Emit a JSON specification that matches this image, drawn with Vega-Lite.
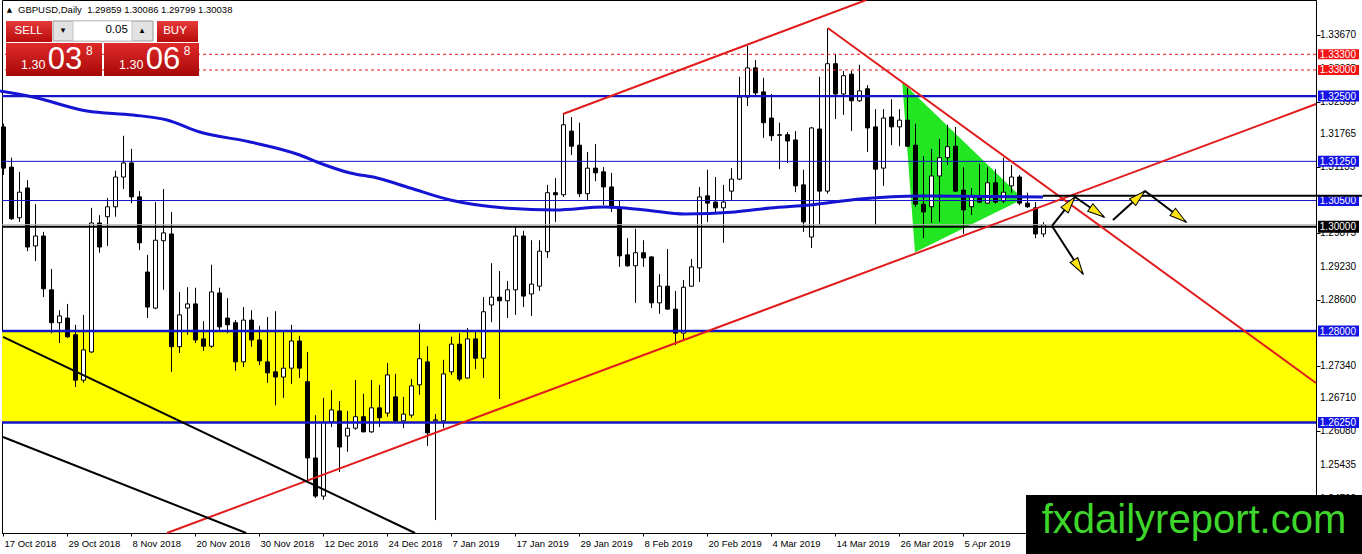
{
  "$schema": "https://vega.github.io/schema/vega-lite/v6.json",
  "width": 1314,
  "height": 533,
  "autosize": "none",
  "padding": {"left": 2, "top": 0, "right": 46, "bottom": 21},
  "background": "white",
  "config": {
    "view": {"stroke": "black", "strokeWidth": 1},
    "axis": {"grid": false, "domainColor": "black", "tickColor": "black", "labelColor": "black", "labelFont": "Liberation Sans", "labelFontSize": 10, "titleOpacity": 0, "labelOverlap": false},
    "scale": {"continuousPadding": 0},
    "text": {"font": "Liberation Sans"}
  },
  "datasets": {
    "candles": [
      {"i":0,"open":1.3191,"high":1.3197,"low":1.3099,"close":1.3112},
      {"i":1,"open":1.3114,"high":1.3132,"low":1.3013,"close":1.3015},
      {"i":2,"open":1.3017,"high":1.3105,"low":1.3009,"close":1.3066},
      {"i":3,"open":1.3074,"high":1.3089,"low":1.2953,"close":1.2961},
      {"i":4,"open":1.2963,"high":1.3043,"low":1.2934,"close":1.2982},
      {"i":5,"open":1.2982,"high":1.2990,"low":1.2865,"close":1.2881},
      {"i":6,"open":1.2879,"high":1.2919,"low":1.2796,"close":1.2816},
      {"i":7,"open":1.2816,"high":1.2840,"low":1.2777,"close":1.2829},
      {"i":8,"open":1.2825,"high":1.2852,"low":1.2787,"close":1.2789},
      {"i":9,"open":1.2793,"high":1.2812,"low":1.2693,"close":1.2706},
      {"i":10,"open":1.2706,"high":1.2831,"low":1.2701,"close":1.2764},
      {"i":11,"open":1.2760,"high":1.3036,"low":1.2758,"close":1.3007},
      {"i":12,"open":1.3007,"high":1.3022,"low":1.2950,"close":1.2961},
      {"i":13,"open":1.3019,"high":1.3055,"low":1.2963,"close":1.3038},
      {"i":14,"open":1.3038,"high":1.3107,"low":1.3019,"close":1.3095},
      {"i":15,"open":1.3095,"high":1.3174,"low":1.3072,"close":1.3122},
      {"i":16,"open":1.3122,"high":1.3149,"low":1.3045,"close":1.3057},
      {"i":17,"open":1.3057,"high":1.3068,"low":1.2955,"close":1.2969},
      {"i":18,"open":1.2913,"high":1.2946,"low":1.2825,"close":1.2846},
      {"i":19,"open":1.2844,"high":1.3047,"low":1.2842,"close":1.2974},
      {"i":20,"open":1.2973,"high":1.3072,"low":1.2879,"close":1.2988},
      {"i":21,"open":1.2986,"high":1.3028,"low":1.2722,"close":1.2770},
      {"i":22,"open":1.2770,"high":1.2875,"low":1.2758,"close":1.2831},
      {"i":23,"open":1.2844,"high":1.2884,"low":1.2793,"close":1.2852},
      {"i":24,"open":1.2852,"high":1.2883,"low":1.2777,"close":1.2783},
      {"i":25,"open":1.2785,"high":1.2819,"low":1.2762,"close":1.2771},
      {"i":26,"open":1.2771,"high":1.2927,"low":1.2768,"close":1.2875},
      {"i":27,"open":1.2873,"high":1.2883,"low":1.2798,"close":1.2808},
      {"i":28,"open":1.2825,"high":1.2863,"low":1.2796,"close":1.2812},
      {"i":29,"open":1.2816,"high":1.2821,"low":1.2724,"close":1.2741},
      {"i":30,"open":1.2741,"high":1.2846,"low":1.2731,"close":1.2821},
      {"i":31,"open":1.2821,"high":1.2840,"low":1.2770,"close":1.2783},
      {"i":32,"open":1.2783,"high":1.2810,"low":1.2735,"close":1.2743},
      {"i":33,"open":1.2741,"high":1.2827,"low":1.2701,"close":1.2720},
      {"i":34,"open":1.2722,"high":1.2838,"low":1.2658,"close":1.2712},
      {"i":35,"open":1.2712,"high":1.2798,"low":1.2672,"close":1.2729},
      {"i":36,"open":1.2729,"high":1.2812,"low":1.2699,"close":1.2781},
      {"i":37,"open":1.2781,"high":1.2791,"low":1.2710,"close":1.2729},
      {"i":38,"open":1.2703,"high":1.2760,"low":1.2509,"close":1.2557},
      {"i":39,"open":1.2557,"high":1.2639,"low":1.2480,"close":1.2484},
      {"i":40,"open":1.2484,"high":1.2672,"low":1.2477,"close":1.2625},
      {"i":41,"open":1.2626,"high":1.2687,"low":1.2616,"close":1.2649},
      {"i":42,"open":1.2647,"high":1.2666,"low":1.2530,"close":1.2578},
      {"i":43,"open":1.2599,"high":1.2647,"low":1.2569,"close":1.2614},
      {"i":44,"open":1.2614,"high":1.2706,"low":1.2611,"close":1.2636},
      {"i":45,"open":1.2636,"high":1.2680,"low":1.2606,"close":1.2607},
      {"i":46,"open":1.2607,"high":1.2706,"low":1.2605,"close":1.2653},
      {"i":47,"open":1.2653,"high":1.2697,"low":1.2616,"close":1.2634},
      {"i":48,"open":1.2643,"high":1.2739,"low":1.2636,"close":1.2716},
      {"i":49,"open":1.2674,"high":1.2718,"low":1.2626,"close":1.2628},
      {"i":50,"open":1.2628,"high":1.2674,"low":1.2614,"close":1.2641},
      {"i":51,"open":1.2639,"high":1.2708,"low":1.2634,"close":1.2695},
      {"i":52,"open":1.2697,"high":1.2814,"low":1.2678,"close":1.2747},
      {"i":53,"open":1.2741,"high":1.2771,"low":1.2580,"close":1.2605},
      {"i":54,"open":1.2628,"high":1.2641,"low":1.2438,"close":1.2630},
      {"i":55,"open":1.2628,"high":1.2745,"low":1.2614,"close":1.2718},
      {"i":56,"open":1.2722,"high":1.2789,"low":1.2716,"close":1.2775},
      {"i":57,"open":1.2775,"high":1.2796,"low":1.2704,"close":1.2708},
      {"i":58,"open":1.2710,"high":1.2806,"low":1.2709,"close":1.2785},
      {"i":59,"open":1.2785,"high":1.2800,"low":1.2727,"close":1.2748},
      {"i":60,"open":1.2748,"high":1.2865,"low":1.2710,"close":1.2837},
      {"i":61,"open":1.2850,"high":1.2930,"low":1.2817,"close":1.2865},
      {"i":62,"open":1.2865,"high":1.2915,"low":1.2670,"close":1.2858},
      {"i":63,"open":1.2858,"high":1.2896,"low":1.2825,"close":1.2879},
      {"i":64,"open":1.2879,"high":1.2999,"low":1.2831,"close":1.2982},
      {"i":65,"open":1.2982,"high":1.2992,"low":1.2846,"close":1.2867},
      {"i":66,"open":1.2871,"high":1.2974,"low":1.2829,"close":1.2890},
      {"i":67,"open":1.2886,"high":1.2974,"low":1.2877,"close":1.2953},
      {"i":68,"open":1.2952,"high":1.3080,"low":1.2940,"close":1.3065},
      {"i":69,"open":1.3065,"high":1.3093,"low":1.3009,"close":1.3061},
      {"i":70,"open":1.3061,"high":1.3216,"low":1.3057,"close":1.3195},
      {"i":71,"open":1.3183,"high":1.3210,"low":1.3137,"close":1.3154},
      {"i":72,"open":1.3156,"high":1.3199,"low":1.3057,"close":1.3063},
      {"i":73,"open":1.3063,"high":1.3143,"low":1.3051,"close":1.3112},
      {"i":74,"open":1.3112,"high":1.3158,"low":1.3087,"close":1.3103},
      {"i":75,"open":1.3105,"high":1.3114,"low":1.3041,"close":1.3076},
      {"i":76,"open":1.3076,"high":1.3103,"low":1.3028,"close":1.3036},
      {"i":77,"open":1.3036,"high":1.3049,"low":1.2923,"close":1.2944},
      {"i":78,"open":1.2946,"high":1.2978,"low":1.2923,"close":1.2925},
      {"i":79,"open":1.2925,"high":1.2996,"low":1.2854,"close":1.2950},
      {"i":80,"open":1.2950,"high":1.2974,"low":1.2923,"close":1.2940},
      {"i":81,"open":1.2942,"high":1.2943,"low":1.2844,"close":1.2854},
      {"i":82,"open":1.2854,"high":1.2909,"low":1.2833,"close":1.2886},
      {"i":83,"open":1.2886,"high":1.2957,"low":1.2841,"close":1.2842},
      {"i":84,"open":1.2842,"high":1.2877,"low":1.2773,"close":1.2796},
      {"i":85,"open":1.2796,"high":1.2898,"low":1.2783,"close":1.2884},
      {"i":86,"open":1.2886,"high":1.2938,"low":1.2885,"close":1.2923},
      {"i":87,"open":1.2921,"high":1.3076,"low":1.2894,"close":1.3057},
      {"i":88,"open":1.3059,"high":1.3109,"low":1.3009,"close":1.3045},
      {"i":89,"open":1.3047,"high":1.3095,"low":1.3026,"close":1.3036},
      {"i":90,"open":1.3036,"high":1.3080,"low":1.2969,"close":1.3047},
      {"i":91,"open":1.3068,"high":1.3112,"low":1.3051,"close":1.3091},
      {"i":92,"open":1.3091,"high":1.3287,"low":1.3089,"close":1.3248},
      {"i":93,"open":1.3248,"high":1.3346,"low":1.3231,"close":1.3304},
      {"i":94,"open":1.3304,"high":1.3319,"low":1.3248,"close":1.3256},
      {"i":95,"open":1.3258,"high":1.3285,"low":1.3170,"close":1.3199},
      {"i":96,"open":1.3208,"high":1.3254,"low":1.3164,"close":1.3174},
      {"i":97,"open":1.3176,"high":1.3199,"low":1.3110,"close":1.3175},
      {"i":98,"open":1.3176,"high":1.3181,"low":1.3122,"close":1.3164},
      {"i":99,"open":1.3166,"high":1.3183,"low":1.3066,"close":1.3078},
      {"i":100,"open":1.3080,"high":1.3109,"low":1.2990,"close":1.3009},
      {"i":101,"open":1.2980,"high":1.3191,"low":1.2959,"close":1.3189},
      {"i":102,"open":1.3187,"high":1.3287,"low":1.3003,"close":1.3068},
      {"i":103,"open":1.3068,"high":1.3380,"low":1.3063,"close":1.3312},
      {"i":104,"open":1.3312,"high":1.3331,"low":1.3206,"close":1.3254},
      {"i":105,"open":1.3254,"high":1.3298,"low":1.3214,"close":1.3289},
      {"i":106,"open":1.3292,"high":1.3298,"low":1.3183,"close":1.3241},
      {"i":107,"open":1.3241,"high":1.3310,"low":1.3239,"close":1.3260},
      {"i":108,"open":1.3264,"high":1.3271,"low":1.3143,"close":1.3189},
      {"i":109,"open":1.3191,"high":1.3225,"low":1.3003,"close":1.3110},
      {"i":110,"open":1.3112,"high":1.3225,"low":1.3078,"close":1.3208},
      {"i":111,"open":1.3210,"high":1.3244,"low":1.3156,"close":1.3191},
      {"i":112,"open":1.3191,"high":1.3225,"low":1.3154,"close":1.3204},
      {"i":113,"open":1.3204,"high":1.3266,"low":1.3153,"close":1.3154},
      {"i":114,"open":1.3156,"high":1.3197,"low":1.3038,"close":1.3043},
      {"i":115,"open":1.3043,"high":1.3135,"low":1.2978,"close":1.3028},
      {"i":116,"open":1.3038,"high":1.3149,"low":1.3007,"close":1.3097},
      {"i":117,"open":1.3097,"high":1.3168,"low":1.3009,"close":1.3132},
      {"i":118,"open":1.3132,"high":1.3195,"low":1.3118,"close":1.3153},
      {"i":119,"open":1.3154,"high":1.3191,"low":1.3066,"close":1.3068},
      {"i":120,"open":1.3070,"high":1.3114,"low":1.2986,"close":1.3032},
      {"i":121,"open":1.3038,"high":1.3074,"low":1.3022,"close":1.3057},
      {"i":122,"open":1.3057,"high":1.3120,"low":1.3045,"close":1.3047},
      {"i":123,"open":1.3045,"high":1.3114,"low":1.3044,"close":1.3084},
      {"i":124,"open":1.3084,"high":1.3110,"low":1.3044,"close":1.3047},
      {"i":125,"open":1.3049,"high":1.3132,"low":1.3045,"close":1.3066},
      {"i":126,"open":1.3078,"high":1.3118,"low":1.3065,"close":1.3095},
      {"i":127,"open":1.3095,"high":1.3099,"low":1.3041,"close":1.3045},
      {"i":128,"open":1.3045,"high":1.3065,"low":1.3036,"close":1.3038},
      {"i":129,"open":1.3036,"high":1.3047,"low":1.2978,"close":1.2986},
      {"i":130,"open":1.29859,"high":1.30086,"low":1.29799,"close":1.30038}
    ],
    "ma": [
      {"i":-0.375,"ma":1.32597},{"i":3.75,"ma":1.32482},{"i":10.5,"ma":1.32214},{"i":16.25,"ma":1.32138},
      {"i":20.5,"ma":1.32042},{"i":24.6,"ma":1.31813},{"i":30.9,"ma":1.31621},{"i":37.1,"ma":1.31372},
      {"i":39.25,"ma":1.31238},{"i":43.4,"ma":1.31027},{"i":46.75,"ma":1.30932},{"i":50.9,"ma":1.3074},
      {"i":55.9,"ma":1.3051},{"i":62.75,"ma":1.30357},{"i":69,"ma":1.30319},{"i":75.25,"ma":1.30376},
      {"i":80.25,"ma":1.30319},{"i":85.25,"ma":1.30242},{"i":91.5,"ma":1.30281},{"i":95.9,"ma":1.30357},
      {"i":100.9,"ma":1.30414},{"i":107.1,"ma":1.30529},{"i":114.6,"ma":1.30587},{"i":130,"ma":1.30568}
    ],
    "price_ticks": [
      {"price":1.3367},{"price":1.33025},{"price":1.32395},{"price":1.31765},{"price":1.31135},
      {"price":1.305},{"price":1.29875},{"price":1.2923},{"price":1.286},{"price":1.2797},
      {"price":1.2734},{"price":1.2671},{"price":1.2608},{"price":1.25435},{"price":1.2479}
    ],
    "wedge": [
      {"i":112.4,"top":1.3277,"bottom":1.3277},
      {"i":114,"top":1.3253,"bottom":1.2951},
      {"i":127.5,"top":1.3053,"bottom":1.3053}
    ],
    "trend_red": [
      {"line":"channel top","i":70,"p":1.32157},{"line":"channel top","i":107.9,"p":1.3434},
      {"line":"support","i":20.5,"p":1.24133},{"line":"support","i":164.125,"p":1.32348},
      {"line":"resistance","i":103.1,"p":1.33804},{"line":"resistance","i":164.125,"p":1.27006}
    ],
    "trend_black": [
      {"line":"a","i":0,"p":1.27887},{"line":"a","i":51.5,"p":1.24133},
      {"line":"b","i":0,"p":1.25972},{"line":"b","i":30.4,"p":1.24133}
    ],
    "arrows": [
      {"seg":"A","i0":131.125,"p0":1.30013,"i1":134.0,"p1":1.30568},
      {"seg":"B","i0":134.0,"p0":1.30568,"i1":137.625,"p1":1.30185},
      {"seg":"C","i0":131.125,"p0":1.30013,"i1":135.0,"p1":1.29093},
      {"seg":"D","i0":138.75,"p0":1.30127,"i1":142.75,"p1":1.30683},
      {"seg":"E","i0":142.75,"p0":1.30683,"i1":147.875,"p1":1.30089}
    ]
  },
  "layer": [
    {
      "data": {"values": [{"lo": 1.2625, "hi": 1.28}]},
      "mark": {"type": "rect", "color": "#ffff00"},
      "encoding": {
        "x": {"datum": -0.125, "type": "quantitative",
          "scale": {"domain": [-0.125, 164.125], "nice": false, "zero": false, "padding": 0},
          "axis": {"orient": "bottom", "title": null, "values": [0,8,16,24,32,40,48,56,64,72,80,88,96,104,112,120],
            "labelExpr": "['17 Oct 2018','29 Oct 2018','8 Nov 2018','20 Nov 2018','30 Nov 2018','12 Dec 2018','24 Dec 2018','7 Jan 2019','17 Jan 2019','29 Jan 2019','8 Feb 2019','20 Feb 2019','4 Mar 2019','14 Mar 2019','26 Mar 2019','5 Apr 2019'][round(datum.value/8)]",
            "labelAlign": "left", "labelBaseline": "top", "labelFlush": false, "labelOverlap": false, "labelBound": false,
            "labelPadding": 2, "labelOffset": 1, "tickSize": 3, "labelFontSize": 9.5}},
        "x2": {"datum": 164.125},
        "y": {"field": "lo", "type": "quantitative",
          "scale": {"domain": [1.24133, 1.3434], "nice": false, "zero": false, "padding": 0},
          "axis": {"orient": "right", "title": null,
            "values": [1.3367,1.33025,1.32395,1.31765,1.31135,1.305,1.29875,1.2923,1.286,1.2797,1.2734,1.2671,1.2608,1.25435,1.2479],
            "labels": false, "tickSize": 4}},
        "y2": {"field": "hi"}
      }
    },
    {
      "data": {"name": "price_ticks"},
      "mark": {"type": "text", "color": "black", "align": "left", "baseline": "middle", "fontSize": 10},
      "encoding": {
        "x": {"datum": 164.625},
        "y": {"field": "price", "type": "quantitative"},
        "text": {"field": "price", "format": ".5f"}
      }
    },
    {
      "data": {"name": "wedge"},
      "mark": {"type": "area", "color": "#22e622", "opacity": 1},
      "encoding": {
        "x": {"field": "i", "type": "quantitative"},
        "y": {"field": "top", "type": "quantitative"},
        "y2": {"field": "bottom"}
      }
    },
    {
      "data": {"name": "candles"},
      "mark": {"type": "rule", "color": "black", "strokeWidth": 1, "xOffset": 0.5},
      "encoding": {
        "x": {"field": "i", "type": "quantitative"},
        "y": {"field": "low", "type": "quantitative"},
        "y2": {"field": "high"}
      }
    },
    {
      "data": {"name": "candles"},
      "mark": {"type": "bar", "width": 4, "stroke": "black", "strokeWidth": 1, "xOffset": 0.5},
      "encoding": {
        "x": {"field": "i", "type": "quantitative"},
        "y": {"field": "open", "type": "quantitative"},
        "y2": {"field": "close"},
        "fill": {"condition": {"test": "datum.close < datum.open", "value": "black"}, "value": "white"}
      }
    },
    {
      "data": {"name": "ma"},
      "mark": {"type": "line", "color": "#1414d2", "strokeWidth": 3, "interpolate": "monotone"},
      "encoding": {
        "x": {"field": "i", "type": "quantitative"},
        "y": {"field": "ma", "type": "quantitative"}
      }
    },
    {
      "data": {"values": [{"level": 1.30038}]},
      "mark": {"type": "rule", "color": "#b8b8b8", "strokeWidth": 1},
      "encoding": {"y": {"field": "level", "type": "quantitative"}}
    },
    {
      "data": {"values": [{"level": 1.333}, {"level": 1.33}]},
      "layer": [
        {"mark": {"type": "rule", "color": "#e41a1a", "strokeWidth": 1, "strokeDash": [3, 3]},
         "encoding": {"y": {"field": "level", "type": "quantitative"}}},
        {"mark": {"type": "bar", "color": "#f21414", "height": 10},
         "encoding": {"x": {"datum": 164.375}, "x2": {"datum": 169.5}, "y": {"field": "level", "type": "quantitative"}}},
        {"mark": {"type": "text", "color": "white", "align": "left", "baseline": "middle", "fontSize": 10, "dy": 0.5},
         "encoding": {"x": {"datum": 164.6}, "y": {"field": "level", "type": "quantitative"}, "text": {"field": "level", "format": ".5f"}}}
      ]
    },
    {
      "data": {"values": [{"level": 1.325}, {"level": 1.28}, {"level": 1.2625}]},
      "layer": [
        {"mark": {"type": "rule", "color": "#1414c8", "strokeWidth": 2.4},
         "encoding": {"y": {"field": "level", "type": "quantitative"}}},
        {"mark": {"type": "bar", "color": "#1414e6", "height": 11},
         "encoding": {"x": {"datum": 164.375}, "x2": {"datum": 169.5}, "y": {"field": "level", "type": "quantitative"}}},
        {"mark": {"type": "text", "color": "white", "align": "left", "baseline": "middle", "fontSize": 10, "dy": 0.5},
         "encoding": {"x": {"datum": 164.6}, "y": {"field": "level", "type": "quantitative"}, "text": {"field": "level", "format": ".5f"}}}
      ]
    },
    {
      "data": {"values": [{"level": 1.3125}, {"level": 1.305}]},
      "layer": [
        {"mark": {"type": "rule", "color": "#1414c8", "strokeWidth": 1},
         "encoding": {"y": {"field": "level", "type": "quantitative"}}},
        {"mark": {"type": "bar", "color": "#1414e6", "height": 11},
         "encoding": {"x": {"datum": 164.375}, "x2": {"datum": 169.5}, "y": {"field": "level", "type": "quantitative"}}},
        {"mark": {"type": "text", "color": "white", "align": "left", "baseline": "middle", "fontSize": 10, "dy": 0.5},
         "encoding": {"x": {"datum": 164.6}, "y": {"field": "level", "type": "quantitative"}, "text": {"field": "level", "format": ".5f"}}}
      ]
    },
    {
      "data": {"values": [{"level": 1.3}]},
      "layer": [
        {"mark": {"type": "rule", "color": "black", "strokeWidth": 2},
         "encoding": {"y": {"field": "level", "type": "quantitative"}}},
        {"mark": {"type": "bar", "color": "black", "height": 12},
         "encoding": {"x": {"datum": 164.375}, "x2": {"datum": 169.5}, "y": {"field": "level", "type": "quantitative"}}},
        {"mark": {"type": "text", "color": "white", "align": "left", "baseline": "middle", "fontSize": 10, "dy": 0.5},
         "encoding": {"x": {"datum": 164.6}, "y": {"field": "level", "type": "quantitative"}, "text": {"field": "level", "format": ".5f"}}}
      ]
    },
    {
      "data": {"name": "trend_red"},
      "mark": {"type": "line", "color": "#e01c1c", "strokeWidth": 2},
      "encoding": {
        "x": {"field": "i", "type": "quantitative"},
        "y": {"field": "p", "type": "quantitative"},
        "detail": {"field": "line"}
      }
    },
    {
      "data": {"name": "trend_black"},
      "mark": {"type": "line", "color": "black", "strokeWidth": 2},
      "encoding": {
        "x": {"field": "i", "type": "quantitative"},
        "y": {"field": "p", "type": "quantitative"},
        "detail": {"field": "line"}
      }
    },
    {
      "data": {"values": [{"from": 130, "to": 170, "level": 1.3059}]},
      "mark": {"type": "rule", "color": "black", "strokeWidth": 2},
      "encoding": {
        "x": {"field": "from", "type": "quantitative"},
        "x2": {"field": "to"},
        "y": {"field": "level", "type": "quantitative"}
      }
    },
    {
      "data": {"name": "arrows"},
      "layer": [
        {"mark": {"type": "rule", "color": "black", "strokeWidth": 2},
         "encoding": {"x": {"field": "i0", "type": "quantitative"}, "x2": {"field": "i1"},
                      "y": {"field": "p0", "type": "quantitative"}, "y2": {"field": "p1"}}},
        {"transform": [{"filter": "datum.seg == 'A'"}],
         "mark": {"type": "point", "shape": "M0,0L0.6,2.2L-0.6,2.2Z", "size": 230, "angle": 38.4, "filled": true, "fill": "#ffe414", "stroke": "black", "strokeWidth": 1, "opacity": 1},
         "encoding": {"x": {"field": "i1", "type": "quantitative"}, "y": {"field": "p1", "type": "quantitative"}}},
        {"transform": [{"filter": "datum.seg == 'B'"}],
         "mark": {"type": "point", "shape": "M0,0L0.6,2.2L-0.6,2.2Z", "size": 230, "angle": 124.6, "filled": true, "fill": "#ffe414", "stroke": "black", "strokeWidth": 1, "opacity": 1},
         "encoding": {"x": {"field": "i1", "type": "quantitative"}, "y": {"field": "p1", "type": "quantitative"}}},
        {"transform": [{"filter": "datum.seg == 'C'"}],
         "mark": {"type": "point", "shape": "M0,0L0.6,2.2L-0.6,2.2Z", "size": 230, "angle": 147.1, "filled": true, "fill": "#ffe414", "stroke": "black", "strokeWidth": 1, "opacity": 1},
         "encoding": {"x": {"field": "i1", "type": "quantitative"}, "y": {"field": "p1", "type": "quantitative"}}},
        {"transform": [{"filter": "datum.seg == 'D'"}],
         "mark": {"type": "point", "shape": "M0,0L0.6,2.2L-0.6,2.2Z", "size": 230, "angle": 47.8, "filled": true, "fill": "#ffe414", "stroke": "black", "strokeWidth": 1, "opacity": 1},
         "encoding": {"x": {"field": "i1", "type": "quantitative"}, "y": {"field": "p1", "type": "quantitative"}}},
        {"transform": [{"filter": "datum.seg == 'E'"}],
         "mark": {"type": "point", "shape": "M0,0L0.6,2.2L-0.6,2.2Z", "size": 230, "angle": 127.1, "filled": true, "fill": "#ffe414", "stroke": "black", "strokeWidth": 1, "opacity": 1},
         "encoding": {"x": {"field": "i1", "type": "quantitative"}, "y": {"field": "p1", "type": "quantitative"}}}
      ]
    },
    {
      "data": {"values": [{}]},
      "layer": [
        {"mark": {"type": "rect", "fill": {"gradient": "linear", "x1": 0, "y1": 0, "x2": 0, "y2": 1, "stops": [{"offset": 0, "color": "#e63a3a"}, {"offset": 1, "color": "#b80c0c"}]}},
         "encoding": {"x": {"datum": 0.375}, "x2": {"datum": 6.125}, "y": {"datum": 1.33938}, "y2": {"datum": 1.33536}}},
        {"mark": {"type": "rect", "fill": {"gradient": "linear", "x1": 0, "y1": 0, "x2": 0, "y2": 1, "stops": [{"offset": 0, "color": "#e02a2a"}, {"offset": 1, "color": "#a80808"}]}},
         "encoding": {"x": {"datum": 0.375}, "x2": {"datum": 12.375}, "y": {"datum": 1.33517}, "y2": {"datum": 1.32885}}},
        {"mark": {"type": "rect", "fill": "#e2e2e2", "stroke": "#9c9c9c", "strokeWidth": 1},
         "encoding": {"x": {"datum": 6.25}, "x2": {"datum": 18.75}, "y": {"datum": 1.33938}, "y2": {"datum": 1.33555}}},
        {"mark": {"type": "rect", "fill": "white", "stroke": "#c4c4c4", "strokeWidth": 1},
         "encoding": {"x": {"datum": 8.75}, "x2": {"datum": 16.125}, "y": {"datum": 1.33938}, "y2": {"datum": 1.33555}}},
        {"mark": {"type": "rect", "fill": {"gradient": "linear", "x1": 0, "y1": 0, "x2": 0, "y2": 1, "stops": [{"offset": 0, "color": "#e63a3a"}, {"offset": 1, "color": "#b80c0c"}]}},
         "encoding": {"x": {"datum": 19.25}, "x2": {"datum": 24.375}, "y": {"datum": 1.33938}, "y2": {"datum": 1.33536}}},
        {"mark": {"type": "rect", "fill": {"gradient": "linear", "x1": 0, "y1": 0, "x2": 0, "y2": 1, "stops": [{"offset": 0, "color": "#e02a2a"}, {"offset": 1, "color": "#a80808"}]}},
         "encoding": {"x": {"datum": 12.625}, "x2": {"datum": 24.5}, "y": {"datum": 1.33517}, "y2": {"datum": 1.32885}}},
        {"mark": {"type": "text", "text": "SELL", "color": "white", "fontSize": 11.5, "align": "center", "baseline": "middle"},
         "encoding": {"x": {"datum": 3.2}, "y": {"datum": 1.33746}}},
        {"mark": {"type": "text", "text": "BUY", "color": "white", "fontSize": 11.5, "align": "center", "baseline": "middle"},
         "encoding": {"x": {"datum": 21.5}, "y": {"datum": 1.33746}}},
        {"mark": {"type": "text", "text": "0.05", "color": "black", "fontSize": 11.5, "align": "right", "baseline": "middle"},
         "encoding": {"x": {"datum": 15.6}, "y": {"datum": 1.33766}}},
        {"mark": {"type": "text", "text": "▾", "color": "black", "font": "DejaVu Sans", "fontSize": 9, "align": "center", "baseline": "middle"},
         "encoding": {"x": {"datum": 7.5}, "y": {"datum": 1.33766}}},
        {"mark": {"type": "text", "text": "▴", "color": "black", "font": "DejaVu Sans", "fontSize": 9, "align": "center", "baseline": "middle"},
         "encoding": {"x": {"datum": 17.375}, "y": {"datum": 1.33766}}},
        {"mark": {"type": "text", "text": "1.30", "color": "white", "fontSize": 12.5, "align": "left", "baseline": "alphabetic"},
         "encoding": {"x": {"datum": 2.25}, "y": {"datum": 1.33019}}},
        {"mark": {"type": "text", "text": "03", "color": "white", "fontSize": 31, "align": "left", "baseline": "alphabetic"},
         "encoding": {"x": {"datum": 5.6}, "y": {"datum": 1.33019}}},
        {"mark": {"type": "text", "text": "8", "color": "white", "fontSize": 12, "align": "left", "baseline": "alphabetic"},
         "encoding": {"x": {"datum": 10.375}, "y": {"datum": 1.33287}}},
        {"mark": {"type": "text", "text": "1.30", "color": "white", "fontSize": 12.5, "align": "left", "baseline": "alphabetic"},
         "encoding": {"x": {"datum": 14.5}, "y": {"datum": 1.33019}}},
        {"mark": {"type": "text", "text": "06", "color": "white", "fontSize": 31, "align": "left", "baseline": "alphabetic"},
         "encoding": {"x": {"datum": 17.85}, "y": {"datum": 1.33019}}},
        {"mark": {"type": "text", "text": "8", "color": "white", "fontSize": 12, "align": "left", "baseline": "alphabetic"},
         "encoding": {"x": {"datum": 22.6}, "y": {"datum": 1.33287}}},
        {"mark": {"type": "text", "text": "▲", "color": "black", "font": "DejaVu Sans", "fontSize": 7, "align": "center", "baseline": "middle"},
         "encoding": {"x": {"datum": 0.8125}, "y": {"datum": 1.34149}}},
        {"mark": {"type": "text", "text": "GBPUSD,Daily\u00a0 1.29859 1.30086 1.29799 1.30038", "color": "black", "fontSize": 9.5, "align": "left", "baseline": "middle"},
         "encoding": {"x": {"datum": 1.875}, "y": {"datum": 1.34149}}},
        {"mark": {"type": "rect", "fill": "black"},
         "encoding": {"x": {"datum": 127.875}, "x2": {"datum": 170.5}, "y": {"datum": 1.24861}, "y2": {"datum": 1.2360}}},
        {"mark": {"type": "text", "text": "fxdailyreport.com", "color": "#3fd62c", "fontSize": 40, "align": "center", "baseline": "alphabetic"},
         "encoding": {"x": {"datum": 148.875}, "y": {"datum": 1.24133}}}
      ]
    }
  ]
}
